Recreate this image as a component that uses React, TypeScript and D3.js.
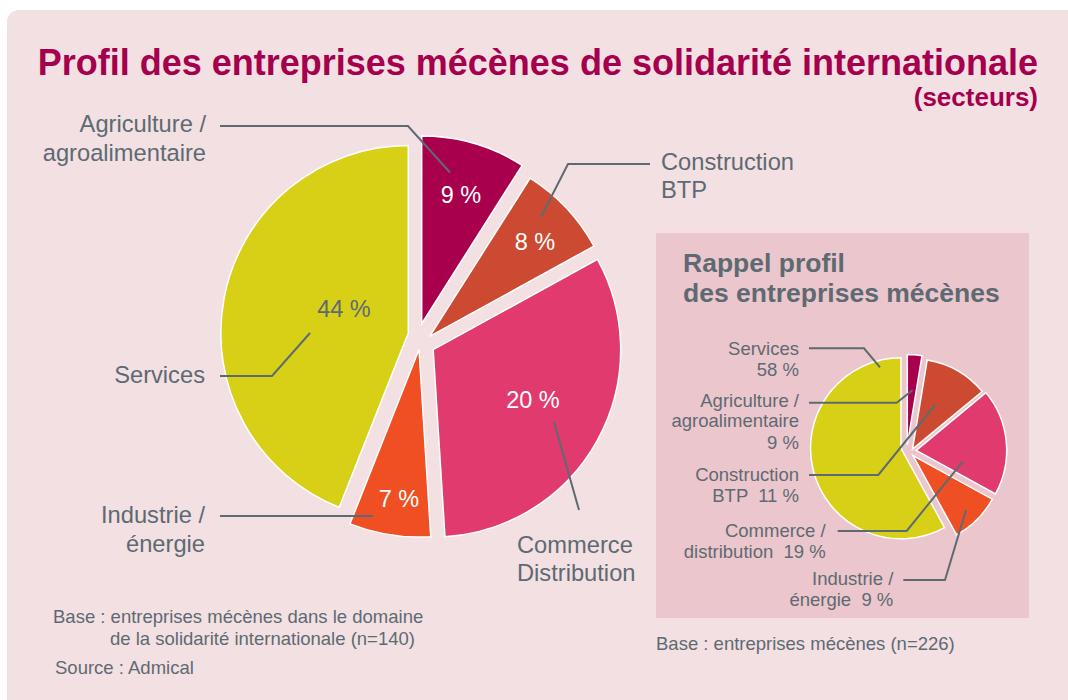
import React from "react";
import * as d3 from "d3";

// ---------- data ----------
const mainSectors = [
  "Agriculture / agroalimentaire",
  "Construction BTP",
  "Commerce Distribution",
  "Industrie / énergie",
  "Services",
];
const mainNameLines = [
  ["Agriculture /", "agroalimentaire"],
  ["Construction", "BTP"],
  ["Commerce", "Distribution"],
  ["Industrie /", "énergie"],
  ["Services"],
];
// angular share as drawn in the picture
const mainShares = [9, 8, 32, 7, 44];
// percentage text printed on the slices
const mainPctLabels = ["9 %", "8 %", "20 %", "7 %", "44 %"];

const insetNameLines = [
  ["Agriculture /", "agroalimentaire"],
  ["Construction", "BTP"],
  ["Commerce /", "distribution"],
  ["Industrie /", "énergie"],
  ["Services"],
];
const insetShares = [2.6, 11.4, 19, 9, 58];
const insetPctLabels = ["9 %", "11 %", "19 %", "9 %", "58 %"];

const sectorColors = ["#A8004D", "#CD4A32", "#E03A6E", "#F04E23", "#D8D017"];

const titleText = "Profil des entreprises mécènes de solidarité internationale";
const subtitleText = "(secteurs)";
const insetTitleLines = ["Rappel profil", "des entreprises mécènes"];
const mainNoteLines = [
  "Base : entreprises mécènes dans le domaine",
  "de la solidarité internationale (n=140)",
];
const sourceText = "Source : Admical";
const insetNote = "Base : entreprises mécènes (n=226)";

// ---------- layout ----------
const FONT = "'Liberation Sans', Arial, Helvetica, sans-serif";
const GRAY = "#5E6A72";
const BG = "#F3E0E3";
const INSET_BG = "#EBC6CD";
const TITLE_COLOR = "#A5004E";

const mainCenter = [420, 338];
const mainRadius = 187.5;
const mainOffsets = [
  [1.7, -14.4],
  [9.7, -1.6],
  [13.2, 11.7],
  [-1, 11.5],
  [-11.7, -5],
];
const mainPctPos = [
  [461, 203],
  [535, 250],
  [533, 408],
  [399, 507],
  [344, 317],
];
const mainPctColor = ["#fff", "#fff", "#fff", "#fff", GRAY];
const mainLabelLayout = [
  { x: 206, anchor: "end", ys: [132, 161], leader: [[220, 126], [408, 126], [450, 172.5]] },
  { x: 661, anchor: "start", ys: [170, 198], leader: [[650, 164], [568, 164], [541, 217]] },
  { x: 517, anchor: "start", ys: [553, 581], leader: [[554, 422], [579, 510]] },
  { x: 205, anchor: "end", ys: [523, 552], leader: [[220, 516], [373, 516]] },
  { x: 205, anchor: "end", ys: [383], leader: [[220, 376], [272, 376], [310, 333]] },
];

const insetCenter = [908, 450];
const insetRadius = 90.5;
const insetOffsets = [
  [-0.7, -5],
  [4.5, -0.8],
  [8.2, 0.3],
  [5, 5.6],
  [-7, -1.7],
];
// inline: put percentage on last name line (two spaces) or on a new line
const insetLabelLayout = [
  { x: 799, ys: [406.7, 427.3, 449.3], inline: false, leader: [[809, 402.7], [896.7, 402.7], [912.7, 390]] },
  { x: 799, ys: [480.7, 502.3], inline: true, leader: [[809, 475], [878.3, 475], [935, 405]] },
  { x: 825.7, ys: [536.7, 558.3], inline: true, leader: [[837.7, 531], [906.7, 531], [962.7, 461.7]] },
  { x: 893.3, ys: [585, 605.7], inline: true, leader: [[903.3, 580], [945, 580], [966, 510]] },
  { x: 799, ys: [355, 375.7], inline: false, leader: [[809, 348.3], [864, 348.3], [880, 367.3]] },
];

type Slice = d3.PieArcDatum<number>;

export default function App() {
  const pie = d3.pie<number>().sort(null).value((d) => d).startAngle(0).endAngle(2 * Math.PI);
  const mainArcs = pie(mainShares);
  const insetArcs = pie(insetShares);
  const mainArc = d3.arc<Slice>().innerRadius(0).outerRadius(mainRadius);
  const insetArc = d3.arc<Slice>().innerRadius(0).outerRadius(insetRadius);
  const line = d3.line();

  return (
    <svg
      width={1068}
      height={700}
      style={{ position: "absolute", left: 0, top: 0, fontFamily: FONT }}
    >
      <rect x={0} y={0} width={1068} height={700} fill="#fff" />
      <rect x={7} y={10} width={1100} height={720} rx={12} fill={BG} />

      {/* title */}
      <text x={1038} y={75} textAnchor="end" fontSize={36} fontWeight="bold" fill={TITLE_COLOR}>
        {titleText}
      </text>
      <text x={1038} y={106} textAnchor="end" fontSize={26} fontWeight="bold" fill={TITLE_COLOR}>
        {subtitleText}
      </text>

      {/* main pie */}
      <g>
        {mainArcs.map((a, i) => (
          <path
            key={mainSectors[i]}
            d={mainArc(a) || ""}
            transform={`translate(${mainCenter[0] + mainOffsets[i][0]},${mainCenter[1] + mainOffsets[i][1]})`}
            fill={sectorColors[i]}
            stroke="#fff"
            strokeWidth={1.5}
          />
        ))}
        {mainLabelLayout.map((l, i) => (
          <path key={"ml" + i} d={line(l.leader as [number, number][]) || ""} fill="none" stroke={GRAY} strokeWidth={2} />
        ))}
        {mainPctLabels.map((t, i) => (
          <text key={"mp" + i} x={mainPctPos[i][0]} y={mainPctPos[i][1]} textAnchor="middle" fontSize={23.5} fill={mainPctColor[i]}>
            {t}
          </text>
        ))}
        {mainLabelLayout.map((l, i) => (
          <text key={"mt" + i} textAnchor={l.anchor} fontSize={23.7} fill={GRAY}>
            {mainNameLines[i].map((s, j) => (
              <tspan key={j} x={l.x} y={l.ys[j]}>
                {s}
              </tspan>
            ))}
          </text>
        ))}
      </g>

      {/* notes */}
      <text fontSize={18.5} fill={GRAY}>
        <tspan x={53} y={623}>{mainNoteLines[0]}</tspan>
        <tspan x={110} y={645}>{mainNoteLines[1]}</tspan>
        <tspan x={55} y={674}>{sourceText}</tspan>
      </text>

      {/* inset */}
      <rect x={656} y={233} width={373} height={385} fill={INSET_BG} />
      <text fontSize={26.5} fontWeight="bold" fill={GRAY}>
        <tspan x={683} y={272}>{insetTitleLines[0]}</tspan>
        <tspan x={683} y={302}>{insetTitleLines[1]}</tspan>
      </text>
      {insetArcs.map((a, i) => (
        <path
          key={"ia" + i}
          d={insetArc(a) || ""}
          transform={`translate(${insetCenter[0] + insetOffsets[i][0]},${insetCenter[1] + insetOffsets[i][1]})`}
          fill={sectorColors[i]}
          stroke="#fff"
          strokeWidth={1.5}
        />
      ))}
      {insetLabelLayout.map((l, i) => (
        <path key={"il" + i} d={line(l.leader as [number, number][]) || ""} fill="none" stroke={GRAY} strokeWidth={2} />
      ))}
      {insetLabelLayout.map((l, i) => {
        const names = insetNameLines[i];
        const lines = l.inline
          ? [...names.slice(0, -1), names[names.length - 1] + "  " + insetPctLabels[i]]
          : [...names, insetPctLabels[i]];
        return (
          <text key={"it" + i} textAnchor="end" fontSize={18.5} fill={GRAY} style={{ whiteSpace: "pre" }}>
            {lines.map((s, j) => (
              <tspan key={j} x={l.x} y={l.ys[j]}>
                {s}
              </tspan>
            ))}
          </text>
        );
      })}
      <text x={656} y={650} fontSize={18.5} fill={GRAY}>
        {insetNote}
      </text>
    </svg>
  );
}
